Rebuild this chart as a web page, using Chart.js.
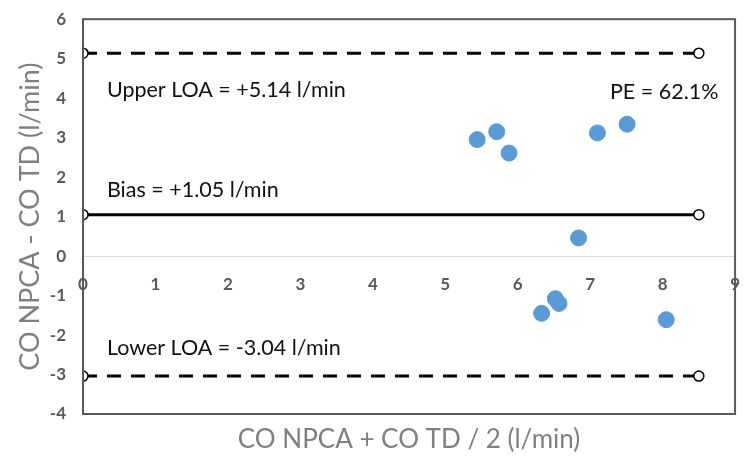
<!DOCTYPE html>
<html>
<head>
<meta charset="utf-8">
<script src="https://cdn.jsdelivr.net/npm/chart.js@4"></script>
<style>
  html, body { margin: 0; padding: 0; background: #fff; }
  #wrap { width: 750px; height: 463px; }
</style>
</head>
<body>
<div id="wrap"><canvas id="baChart"></canvas></div>
<script>
  // mean of the two methods (x) and their difference (y)
  const meanCO = [5.44, 5.71, 5.88, 7.10, 7.51, 6.84, 6.33, 6.52, 6.57, 8.05];
  const diffCO = [2.95, 3.15, 2.61, 3.12, 3.34, 0.46, -1.45, -1.08, -1.20, -1.61];

  const bias = 1.05;
  const upperLoa = 5.14;
  const lowerLoa = -3.04;
  const lineStart = 0;
  const lineEnd = 8.5;

  const yTicks = [-4, -3, -2, -1, 0, 1, 2, 3, 4, 5, 6];
  const xTicks = [0, 1, 2, 3, 4, 5, 6, 7, 8, 9];

  const notes = [
    { text: 'Upper LOA = +5.14 l/min', x: 0.33, y: 4.2, align: 'left' },
    { text: 'PE = 62.1%', x: 8.77, y: 4.15, align: 'right' },
    { text: 'Bias = +1.05 l/min', x: 0.33, y: 1.68, align: 'left' },
    { text: 'Lower LOA = -3.04 l/min', x: 0.33, y: -2.33, align: 'left' }
  ];

  const xTitle = 'CO NPCA + CO TD / 2 (l/min)';
  const yTitle = 'CO NPCA - CO TD (l/min)';

  function hline(y, dash) {
    return {
      type: 'line',
      data: [{ x: lineStart, y: y }, { x: lineEnd, y: y }],
      borderColor: '#000',
      borderWidth: 3,
      borderDash: dash,
      pointRadius: 5,
      pointBorderWidth: 1.5,
      pointBackgroundColor: '#fff',
      pointBorderColor: '#000',
      fill: false
    };
  }

  const extras = {
    id: 'extras',
    afterDraw(chart) {
      const ctx = chart.ctx;
      const a = chart.chartArea;
      const xs = chart.scales.x, ys = chart.scales.y;
      ctx.save();
      // frame
      ctx.strokeStyle = '#595959';
      ctx.lineWidth = 2;
      ctx.strokeRect(a.left, a.top, a.right - a.left, a.bottom - a.top);
      // notes
      ctx.fillStyle = '#111';
      ctx.font = '21.5px Lato';
      ctx.textBaseline = 'middle';
      notes.forEach(n => {
        ctx.textAlign = n.align;
        ctx.fillText(n.text, xs.getPixelForValue(n.x), ys.getPixelForValue(n.y));
      });
      // axis titles
      ctx.fillStyle = '#7f7f7f';
      ctx.font = '26px Lato';
      ctx.textAlign = 'center';
      ctx.fillText(xTitle, (a.left + a.right) / 2, a.bottom + 26);
      ctx.font = '27px Lato';
      ctx.translate(30, (a.top + a.bottom) / 2);
      ctx.rotate(-Math.PI / 2);
      ctx.fillText(yTitle, 0, 0);
      ctx.restore();
    }
  };

  new Chart(document.getElementById('baChart'), {
    type: 'scatter',
    data: {
      datasets: [
        {
          data: meanCO.map((v, i) => ({ x: v, y: diffCO[i] })),
          pointRadius: 8,
          pointHoverRadius: 8,
          pointBackgroundColor: '#5b9bd5',
          pointBorderColor: '#5b9bd5'
        },
        hline(upperLoa, [14, 10]),
        hline(bias, []),
        hline(lowerLoa, [14, 10])
      ]
    },
    options: {
      responsive: true,
      maintainAspectRatio: false,
      animation: false,
      layout: { padding: { top: 14, right: 13, bottom: 49, left: 0 } },
      plugins: { legend: { display: false }, tooltip: { enabled: false } },
      scales: {
        x: {
          type: 'linear',
          position: { y: 0 },
          min: 0,
          max: 9,
          afterBuildTicks: (axis) => { axis.ticks = xTicks.map(v => ({ value: v })); },
          grid: { display: false },
          border: { color: '#d9d9d9', width: 1 },
          ticks: { color: '#595959', padding: 10, font: { family: 'Lato', size: 17, weight: 'bold' } }
        },
        y: {
          min: -4,
          max: 6,
          afterBuildTicks: (axis) => { axis.ticks = yTicks.map(v => ({ value: v })); },
          afterFit: (axis) => { axis.width = 83; },
          grid: { display: false },
          border: { display: false },
          ticks: { color: '#595959', padding: 9, font: { family: 'Lato', size: 17, weight: 'bold' } }
        }
      }
    },
    plugins: [extras]
  });
</script>
</body>
</html>
